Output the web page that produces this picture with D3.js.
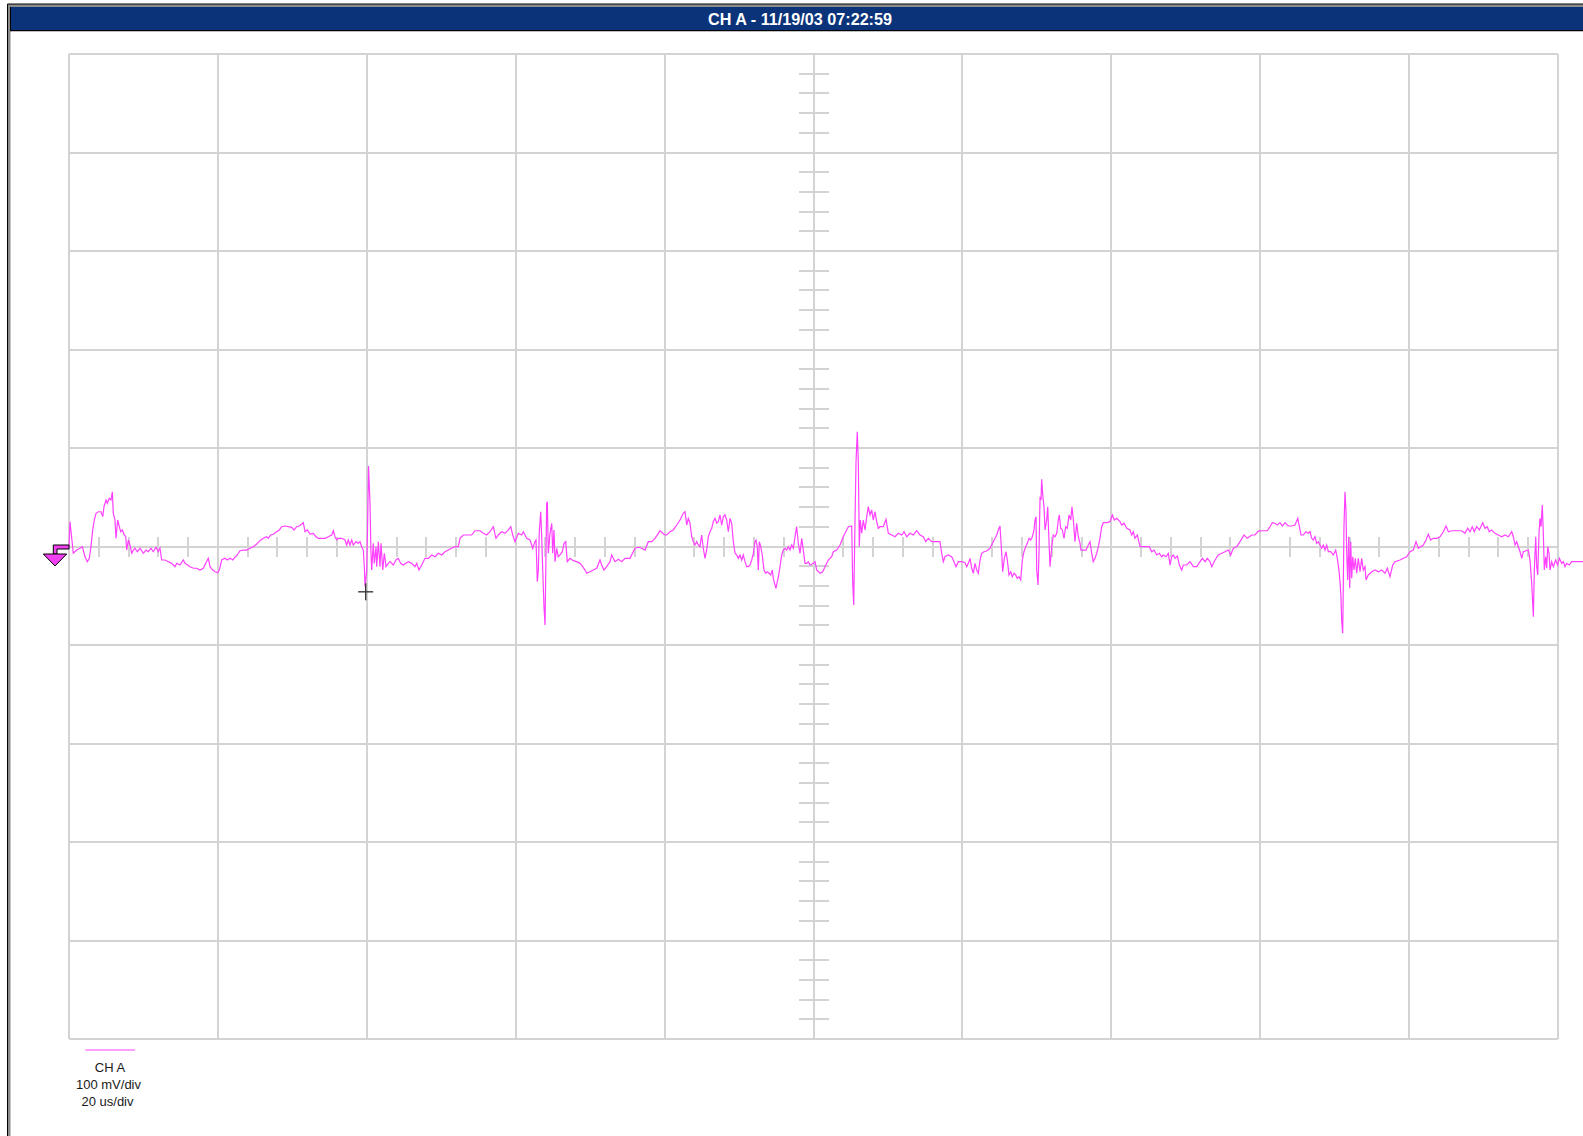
<!DOCTYPE html>
<html><head><meta charset="utf-8">
<script src="https://cdn.jsdelivr.net/npm/d3@7"></script>
<style>html,body{margin:0;padding:0;background:#fff;overflow:hidden}</style>
</head><body><svg id="c" width="1583" height="1136"></svg>
<script>
// ---- data ----
const titleText = "CH A - 11/19/03 07:22:59";
const legendLines = ["CH A", "100 mV/div", "20 us/div"];
const timeDivsUs = [0, 20, 40, 60, 80, 100, 120, 140, 160, 180, 200];
const voltDivsMv = [-500, -400, -300, -200, -100, 0, 100, 200, 300, 400, 500];
const triggerLevelMv = 0;
const cursorTimeUs = 39.85;
const cursorMv = -46;

const timeUs = [
0, 0.13, 0.58, 1.03, 1.48, 1.79, 2.15, 2.46, 2.73, 2.95,
3.18, 3.40, 3.63, 3.94, 4.30, 4.53, 4.70, 4.97, 5.14, 5.41,
5.64, 5.82, 5.95, 6.18, 6.31, 6.54, 6.76, 6.94, 7.16, 7.43,
7.62, 7.75, 7.97, 8.19, 8.42, 8.64, 8.87, 9.17, 9.54, 9.98,
10.34, 10.65, 11.01, 11.32, 11.69, 11.99, 12.22, 12.45, 12.89, 13.34,
13.79, 14.24, 14.47, 14.91, 15.35, 15.58, 15.94, 16.25, 16.70, 17.15,
17.60, 18.04, 18.36, 18.71, 18.94, 19.30, 19.65, 19.97, 20.19, 20.51,
20.95, 21.26, 21.63, 21.99, 22.30, 22.61, 22.97, 23.41, 23.87, 24.31,
24.76, 25.21, 25.65, 26.10, 26.55, 26.77, 27.09, 27.44, 27.90, 28.25,
28.57, 29.01, 29.46, 29.91, 30.22, 30.58, 30.93, 31.26, 31.47, 31.70,
32.01, 32.37, 32.81, 33.18, 33.49, 33.94, 34.39, 34.83, 35.29, 35.50,
35.73, 35.96, 36.17, 36.63, 37.07, 37.30, 37.52, 37.74, 37.97, 38.19,
38.55, 38.86, 39.09, 39.31, 39.53, 39.67, 39.76, 39.99, 40.12, 40.23,
40.43, 40.56, 40.66, 40.87, 41.01, 41.24, 41.33, 41.55, 41.77, 41.91,
42.14, 42.35, 42.58, 42.89, 43.12, 43.56, 43.92, 44.23, 44.55, 44.90,
45.57, 46.03, 46.47, 46.70, 47.01, 47.37, 47.82, 48.26, 48.72, 49.16,
49.60, 50.06, 50.50, 50.95, 51.40, 51.85, 52.29, 52.52, 52.96, 53.42,
54.09, 54.53, 55.21, 55.65, 56.10, 56.55, 56.99, 57.35, 57.66, 58.12,
58.56, 59.01, 59.33, 59.60, 59.91, 60.35, 60.81, 61.02, 61.48, 61.92,
62.28, 62.59, 62.73, 62.90, 63.04, 63.17, 63.36, 63.49, 63.63, 63.80,
63.94, 64.07, 64.16, 64.25, 64.38, 64.61, 64.84, 64.97, 65.14, 65.28,
65.51, 65.72, 65.95, 66.26, 66.49, 66.72, 66.93, 67.29, 67.74, 68.19,
68.64, 69.00, 69.31, 69.54, 69.98, 70.42, 70.88, 71.32, 71.55, 71.86,
72.22, 72.67, 72.89, 73.34, 73.78, 74.24, 74.68, 75.35, 76.03, 76.47,
76.92, 77.37, 77.81, 78.27, 78.71, 79.16, 79.38, 79.74, 80.05, 80.28,
80.73, 81.17, 81.63, 82.07, 82.51, 82.74, 82.97, 83.18, 83.41, 83.64,
83.86, 84.08, 84.31, 84.53, 84.75, 84.98, 85.20, 85.43, 85.65, 85.87,
86.10, 86.33, 86.54, 86.77, 87.00, 87.21, 87.44, 87.67, 87.89, 88.11,
88.34, 88.56, 88.79, 89.01, 89.23, 89.46, 89.68, 89.90, 90.13, 90.36,
90.57, 90.80, 91.03, 91.24, 91.47, 91.70, 91.92, 92.14, 92.28, 92.45,
92.59, 92.72, 92.91, 93.12, 93.35, 93.58, 93.80, 94.02, 94.25, 94.47,
94.60, 94.83, 94.96, 95.14, 95.33, 95.50, 95.73, 95.94, 96.17, 96.40,
96.62, 96.84, 97.07, 97.29, 97.52, 97.74, 97.96, 98.19, 98.42, 98.63,
98.86, 99.09, 99.30, 99.53, 99.97, 100.20, 100.43, 100.87, 101.24, 101.54,
101.99, 102.44, 102.66, 103.12, 103.56, 104.00, 104.46, 104.68, 105.13, 105.27,
105.40, 105.58, 105.71, 105.88, 106.02, 106.15, 106.29, 106.48, 106.69, 106.92,
107.15, 107.36, 107.59, 107.81, 108.03, 108.26, 108.49, 108.70, 108.93, 109.38,
109.74, 110.05, 110.50, 110.95, 111.39, 111.85, 112.16, 112.52, 112.96, 113.41,
113.86, 114.31, 114.75, 115.07, 115.42, 115.88, 116.55, 116.99, 117.22, 117.44,
117.67, 118.11, 118.56, 118.87, 119.14, 119.45, 119.91, 120.35, 120.58, 120.80,
121.02, 121.25, 121.47, 121.69, 121.92, 122.14, 122.37, 122.59, 122.90, 123.26,
123.71, 124.15, 124.61, 124.82, 125.05, 125.28, 125.41, 125.63, 125.86, 126.03,
126.26, 126.49, 126.70, 126.93, 127.16, 127.37, 127.60, 127.83, 128.05, 128.27,
128.50, 128.72, 128.95, 129.17, 129.39, 129.62, 129.75, 129.89, 129.98, 130.16,
130.29, 130.43, 130.56, 130.65, 130.79, 130.96, 131.10, 131.32, 131.46, 131.59,
131.77, 132.00, 132.21, 132.44, 132.67, 132.88, 133.02, 133.20, 133.42, 133.65,
133.87, 134.09, 134.32, 134.55, 134.72, 134.90, 135.12, 135.35, 135.57, 135.80,
135.93, 136.60, 136.91, 137.14, 137.37, 137.58, 137.81, 138.04, 138.26, 138.48,
138.71, 138.93, 139.38, 139.83, 140.14, 140.41, 140.73, 141.17, 141.40, 141.71,
142.07, 142.51, 142.74, 142.96, 143.18, 143.49, 143.86, 145.10, 145.43, 145.74,
146.10, 146.45, 146.77, 146.99, 147.35, 147.66, 147.89, 148.11, 148.33, 148.56,
148.87, 149.14, 149.46, 149.67, 150.13, 150.57, 151.02, 151.47, 151.92, 152.22,
152.59, 152.90, 153.26, 153.49, 153.93, 154.37, 154.83, 155.27, 155.72, 156.04,
156.39, 156.85, 157.29, 157.83, 158.27, 158.86, 159.30, 159.75, 160.42, 160.96,
161.32, 161.63, 161.99, 162.30, 162.66, 162.97, 163.33, 163.78, 164.23, 164.68,
165.04, 165.25, 165.48, 165.79, 166.15, 166.46, 166.69, 166.92, 167.13, 167.36,
167.59, 167.81, 168.03, 168.26, 168.48, 168.70, 168.93, 169.15, 169.47, 169.82,
170.14, 170.36, 170.58, 170.72, 170.85, 170.94, 171.08, 171.16, 171.25, 171.39,
171.52, 171.62, 171.75, 171.89, 172.02, 172.16, 172.29, 172.43, 172.60, 172.78,
172.96, 173.18, 173.41, 173.63, 173.85, 174.08, 174.21, 174.52, 174.98, 175.42,
175.87, 176.32, 176.76, 177.08, 177.43, 177.80, 178.11, 178.78, 179.23, 179.68,
180.12, 180.57, 180.93, 181.24, 181.56, 181.91, 182.27, 182.58, 182.90, 183.25,
183.71, 184.15, 184.60, 184.96, 185.27, 185.73, 187.07, 187.51, 187.87, 188.18,
188.49, 188.76, 189.08, 189.43, 189.89, 190.19, 190.50, 190.77, 191.09, 191.54,
191.98, 192.44, 192.88, 193.33, 193.78, 194.00, 194.23, 194.45, 194.67, 194.90,
195.13, 195.34, 196.02, 196.24, 196.47, 196.69, 196.82, 197.01, 197.14, 197.28,
197.45, 197.58, 197.72, 197.89, 198.03, 198.16, 198.35, 198.48, 198.62, 198.79,
198.93, 199.15, 199.37, 199.69, 199.96, 200.18, 200.50, 200.72, 200.94, 201.17, 201.52, 201.84, 203.40
];

const voltageMv = [
0, 25.2, -6.9, -3.6, -1.8, -0.2, -10.4, -15.4, -12.0, -0.2,
16.8, 26.9, 33.7, 35.3, 35.3, 30.3, 40.4, 47.2, 43.9, 48.9,
47.2, 55.6, 33.7, 26.9, 8.3, 26.9, 20.1, 15.0, 16.8, 11.7,
9.9, -3.6, 6.6, 1.5, -6.9, -3.6, -1.8, -5.3, -1.8, -6.9,
-3.6, -5.3, -1.8, -5.3, -0.8, -5.3, -1.8, -13.7, -13.7, -15.4,
-17.1, -20.5, -17.1, -18.8, -13.7, -17.1, -18.8, -20.5, -22.1, -22.1,
-23.9, -22.1, -17.1, -12.0, -20.5, -23.9, -25.6, -26.6, -23.9, -13.7,
-12.0, -13.7, -12.0, -13.7, -11.0, -8.6, -4.3, -3.6, -3.6, -1.8,
-0.2, 2.5, 5.9, 8.3, 9.9, 8.3, 11.7, 12.4, 15.0, 16.8,
20.1, 20.8, 20.1, 19.5, 16.8, 20.1, 20.8, 22.8, 24.2, 15.0,
16.8, 12.7, 13.4, 9.9, 8.3, 8.3, 8.3, 9.9, 11.7, 16.0,
9.9, 6.6, 8.3, 8.3, 6.6, 1.5, 6.6, 1.5, 6.6, 1.5,
4.9, 3.2, 4.9, -0.2, -3.6, -20.5, -40.8, -23.9, 26.9, 81.7,
43.9, -6.9, -23.9, 3.2, -17.1, -0.2, -20.5, 4.9, -20.5, 3.2,
-23.9, -6.9, -20.5, -17.1, -15.4, -18.8, -13.7, -12.0, -17.1, -18.8,
-15.4, -17.1, -20.5, -17.1, -23.9, -18.8, -12.0, -12.0, -8.6, -10.4,
-6.9, -8.6, -5.3, -3.6, -1.8, -0.2, -0.2, 8.3, 11.7, 11.7,
11.7, 16.0, 16.0, 13.4, 11.7, 15.0, 20.1, 8.3, 11.7, 15.0,
13.4, 16.8, 20.1, 11.7, 4.9, 13.4, 11.7, 15.0, 8.3, 6.6,
-1.8, 4.9, 6.6, -35.7, -23.9, 15.0, 35.3, 9.9, -23.9, -61.1,
-79.7, -6.9, 43.9, 45.5, -6.9, 13.4, 23.6, -6.9, 16.8, -15.4,
-1.8, -10.4, -8.6, -5.3, 3.2, 4.9, -15.4, -12.0, -14.4, -15.4,
-17.1, -20.5, -23.9, -27.2, -25.6, -23.9, -22.1, -13.7, -18.8, -23.9,
-20.5, -15.4, -8.6, -15.4, -13.0, -15.4, -12.0, -12.0, -1.8, -0.8,
-1.8, -3.6, 4.9, 4.9, 8.3, 13.4, 16.0, 13.4, 11.7, 11.7,
15.0, 16.8, 21.8, 26.9, 33.7, 35.3, 21.8, 28.6, 23.6, 9.9,
4.9, 1.5, 4.9, 1.5, -0.2, 11.7, -1.8, -12.0, -3.6, 9.9,
15.0, 18.5, 25.2, 28.6, 23.6, 25.2, 32.0, 21.8, 30.3, 32.0,
26.9, 15.0, 28.6, 23.6, 4.9, -6.9, -8.6, -12.0, -8.6, -13.7,
-8.6, -15.4, -20.5, -20.5, -18.8, -13.7, -6.9, 4.9, 6.6, -0.2,
-23.9, 4.9, -0.2, -8.6, -23.9, -27.2, -25.6, -27.2, -28.9, -23.9,
-32.3, -39.1, -42.4, -35.7, -28.9, -20.5, -8.6, -3.6, -1.8, -3.6,
-0.2, -3.6, 1.5, -1.8, 9.9, 20.1, 3.2, -6.9, 8.3, -3.6,
-17.1, -17.1, -15.4, -18.8, -17.1, -15.4, -23.9, -27.2, -25.6, -20.5,
-13.7, -10.4, -5.3, -3.6, 1.5, 9.9, 16.8, 20.1, 20.8, -37.4,
-59.4, 26.9, 86.1, 116.5, 86.1, -0.2, 26.9, 13.4, 26.9, 16.8,
30.3, 40.4, 32.0, 37.1, 26.9, 35.3, 25.2, 18.5, 20.1, 20.1,
27.6, 13.4, 11.7, 9.9, 13.4, 11.7, 15.0, 9.9, 13.4, 11.7,
16.0, 11.7, 9.9, 4.9, 8.3, 4.9, 4.9, 4.9, -6.9, -15.4,
-10.4, -8.6, -10.4, -15.4, -20.5, -15.4, -15.4, -16.4, -20.5, -17.1,
-12.0, -22.1, -27.2, -17.1, -23.9, -27.2, -13.7, -6.9, -5.3, -4.6,
-1.8, 4.9, 11.7, 16.8, 20.8, -6.9, -25.6, -12.0, -5.3, -13.7,
-28.9, -25.6, -30.7, -27.2, -28.9, -32.3, -30.7, -34.0, -13.7, -5.3,
-0.2, 3.2, 8.3, 6.6, 9.9, 16.8, 26.9, 30.3, -23.9, -39.1,
-6.9, 50.6, 47.2, 68.2, 52.3, 40.4, 16.8, 26.9, 40.4, 13.4,
-20.5, -0.2, 11.7, 9.9, 13.4, 26.9, 32.0, 18.5, 16.8, 8.3,
20.1, 18.5, 32.0, 26.9, 40.4, 26.9, 4.9, 23.6, 9.9, 3.2,
-3.6, -3.6, 1.5, 4.9, -6.9, -15.4, -12.0, -6.9, -0.2, 8.3,
20.1, 24.2, 24.2, 25.2, 32.0, 26.9, 28.6, 25.2, 21.8, 23.6,
18.5, 16.8, 11.7, 15.0, 8.3, 11.7, -0.2, -0.2, -5.3, -3.6,
-8.6, -6.9, -10.4, -8.6, -10.4, -6.9, -18.8, -10.4, -8.6, -12.0,
-9.6, -18.8, -23.9, -18.8, -18.8, -15.4, -20.5, -20.5, -15.4, -12.0,
-15.4, -12.0, -15.4, -20.5, -13.7, -8.6, -6.9, -5.3, -3.6, -8.6,
-1.8, -0.2, 4.9, 11.7, 8.3, 11.7, 11.7, 15.7, 16.0, 16.0,
20.1, 24.2, 23.6, 21.8, 24.2, 20.8, 24.2, 20.8, 20.8, 21.8,
28.6, 20.8, 11.7, 11.7, 15.0, 13.4, 15.0, 8.3, 6.6, 9.9,
3.2, 4.9, 1.5, -1.8, 1.5, -3.6, 1.5, -5.3, -5.3, -8.6,
-3.6, -12.0, -23.9, -35.7, -51.0, -74.6, -88.1, -40.8, 20.1, 55.6,
37.1, -6.9, -34.0, 9.9, -42.4, 4.9, -32.3, -10.4, -23.9, -12.0,
-27.2, -12.0, -25.6, -12.0, -23.9, -20.5, -34.0, -28.9, -25.6, -23.9,
-25.6, -23.9, -27.2, -22.1, -30.7, -18.8, -15.4, -13.7, -12.0, -10.4,
-5.3, -3.6, 4.9, -1.8, -0.2, 1.5, 6.6, 12.4, 6.6, 8.3,
8.3, 9.9, 15.0, 20.8, 15.0, 16.0, 16.0, 13.4, 18.5, 15.0,
20.1, 15.0, 20.1, 16.8, 24.2, 18.5, 20.1, 15.0, 16.8, 13.4,
11.7, 9.9, 11.7, 9.9, 15.0, 9.9, 1.5, 4.9, -0.2, -5.3,
-12.0, -5.3, -3.6, -13.7, -37.4, -71.3, -23.9, 9.9, -20.5, -28.9,
13.4, 28.6, 20.1, 42.1, 13.4, -23.9, -10.4, -22.1, -0.2, -6.9,
-23.9, -15.4, -20.5, -13.7, -18.8, -12.0, -17.1, -15.4, -20.5, -17.1, -18.8, -15.4, -15.4
];

// ---- drawing ----
const svg = d3.select("#c");
const W = 1583, H = 1136;
const plot = {left: 69, right: 1558, top: 54, bottom: 1039};
const traceColor = "#ff40ff";
const gridColor = "#d3d3d3";

const x = d3.scaleLinear().domain([0, 200]).range([plot.left, plot.right]);
const y = d3.scaleLinear().domain([-500, 500]).range([plot.bottom, plot.top]);

svg.append("rect").attr("x", 0).attr("y", 0).attr("width", W).attr("height", H).attr("fill", "#fff");

// window frame
svg.append("rect").attr("x", 7.5).attr("y", 4).attr("width", 3).attr("height", H - 4).attr("fill", "#8c8c8c");
svg.append("rect").attr("x", 7.5).attr("y", 4).attr("width", W - 7.5).attr("height", 3).attr("fill", "#8c8c8c");
svg.append("line").attr("x1", 7.5).attr("x2", 7.5).attr("y1", 4).attr("y2", H).attr("stroke", "#000").attr("stroke-width", 1);
svg.append("line").attr("x1", 7.5).attr("x2", W).attr("y1", 4).attr("y2", 4).attr("stroke", "#000").attr("stroke-width", 1);

// title bar
svg.append("rect").attr("x", 10.5).attr("y", 7).attr("width", W - 10.5).attr("height", 23.5).attr("fill", "#0b337a");
svg.append("line").attr("x1", 10.5).attr("x2", 10.5).attr("y1", 7).attr("y2", 31).attr("stroke", "#000").attr("stroke-width", 1);
svg.append("line").attr("x1", 10).attr("x2", W).attr("y1", 30.7).attr("y2", 30.7).attr("stroke", "#000").attr("stroke-width", 1.2);
svg.append("text").attr("x", 800).attr("y", 25)
  .attr("text-anchor", "middle").attr("fill", "#fff")
  .attr("font-family", "'Liberation Sans', Arial, sans-serif").attr("font-weight", "bold")
  .attr("font-size", 16).attr("textLength", 184).attr("lengthAdjust", "spacingAndGlyphs")
  .text(titleText);

// grid
const g = svg.append("g").attr("shape-rendering", "crispEdges");
g.selectAll("line.v").data(timeDivsUs).join("line").attr("class", "v")
  .attr("x1", d => x(d)).attr("x2", d => x(d)).attr("y1", plot.top).attr("y2", plot.bottom)
  .attr("stroke", gridColor).attr("stroke-width", 2);
g.selectAll("line.h").data(voltDivsMv).join("line").attr("class", "h")
  .attr("x1", plot.left).attr("x2", plot.right).attr("y1", d => y(d)).attr("y2", d => y(d))
  .attr("stroke", gridColor).attr("stroke-width", 2);

// minor ticks on center axes
const timeMinor = d3.range(0, 200.01, 4);
const voltMinor = d3.range(-500, 500.01, 20);
g.selectAll("line.mt").data(timeMinor).join("line").attr("class", "mt")
  .attr("x1", d => x(d)).attr("x2", d => x(d)).attr("y1", y(0) - 10).attr("y2", y(0) + 10)
  .attr("stroke", gridColor).attr("stroke-width", 2);
g.selectAll("line.mv").data(voltMinor).join("line").attr("class", "mv")
  .attr("x1", x(100) - 15).attr("x2", x(100) + 15).attr("y1", d => y(d)).attr("y2", d => y(d))
  .attr("stroke", gridColor).attr("stroke-width", 2);

// trace
const pts = timeUs.map((t, i) => [t, voltageMv[i]]);
svg.append("path").datum(pts)
  .attr("d", d3.line().x(d => x(d[0])).y(d => y(d[1])))
  .attr("fill", "none").attr("stroke", traceColor).attr("stroke-width", 1.2)
  .attr("stroke-linejoin", "miter");

// cursor crosshair
const cx = x(cursorTimeUs), cy = y(cursorMv);
svg.append("line").attr("x1", cx - 7.5).attr("x2", cx + 7.5).attr("y1", cy).attr("y2", cy)
  .attr("stroke", "#3a3a3a").attr("stroke-width", 1.4);
svg.append("line").attr("x1", cx).attr("x2", cx).attr("y1", cy - 8.5).attr("y2", cy + 8.5)
  .attr("stroke", "#3a3a3a").attr("stroke-width", 1.4);

// trigger marker
const ty = y(triggerLevelMv);
const flag = [[53.3, ty + 7.5], [53.3, ty - 1.5], [69, ty - 1.5], [69, ty + 2.5], [57, ty + 2.5], [57, ty + 7.5]];
svg.append("polygon").attr("points", flag.map(p => p.join(",")).join(" "))
  .attr("fill", "#f040f0").attr("stroke", "#000").attr("stroke-width", 1);
const tri = [[43.3, ty + 7.5], [66.7, ty + 7.5], [55, ty + 19.5]];
svg.append("polygon").attr("points", tri.map(p => p.join(",")).join(" "))
  .attr("fill", "#f040f0").attr("stroke", "#000").attr("stroke-width", 1);

// legend
svg.append("line").attr("x1", 85.5).attr("x2", 135).attr("y1", 1050).attr("y2", 1050)
  .attr("stroke", "#ff80ff").attr("stroke-width", 1.5);
svg.selectAll("text.leg").data(legendLines).join("text").attr("class", "leg")
  .attr("x", (d, i) => [110, 108.5, 107.5][i]).attr("y", (d, i) => 1071.5 + i * 17)
  .attr("text-anchor", "middle").attr("fill", "#1a1a1a")
  .attr("font-family", "'Liberation Sans', Arial, sans-serif").attr("font-size", 13)
  .text(d => d);
</script>
</body></html>
